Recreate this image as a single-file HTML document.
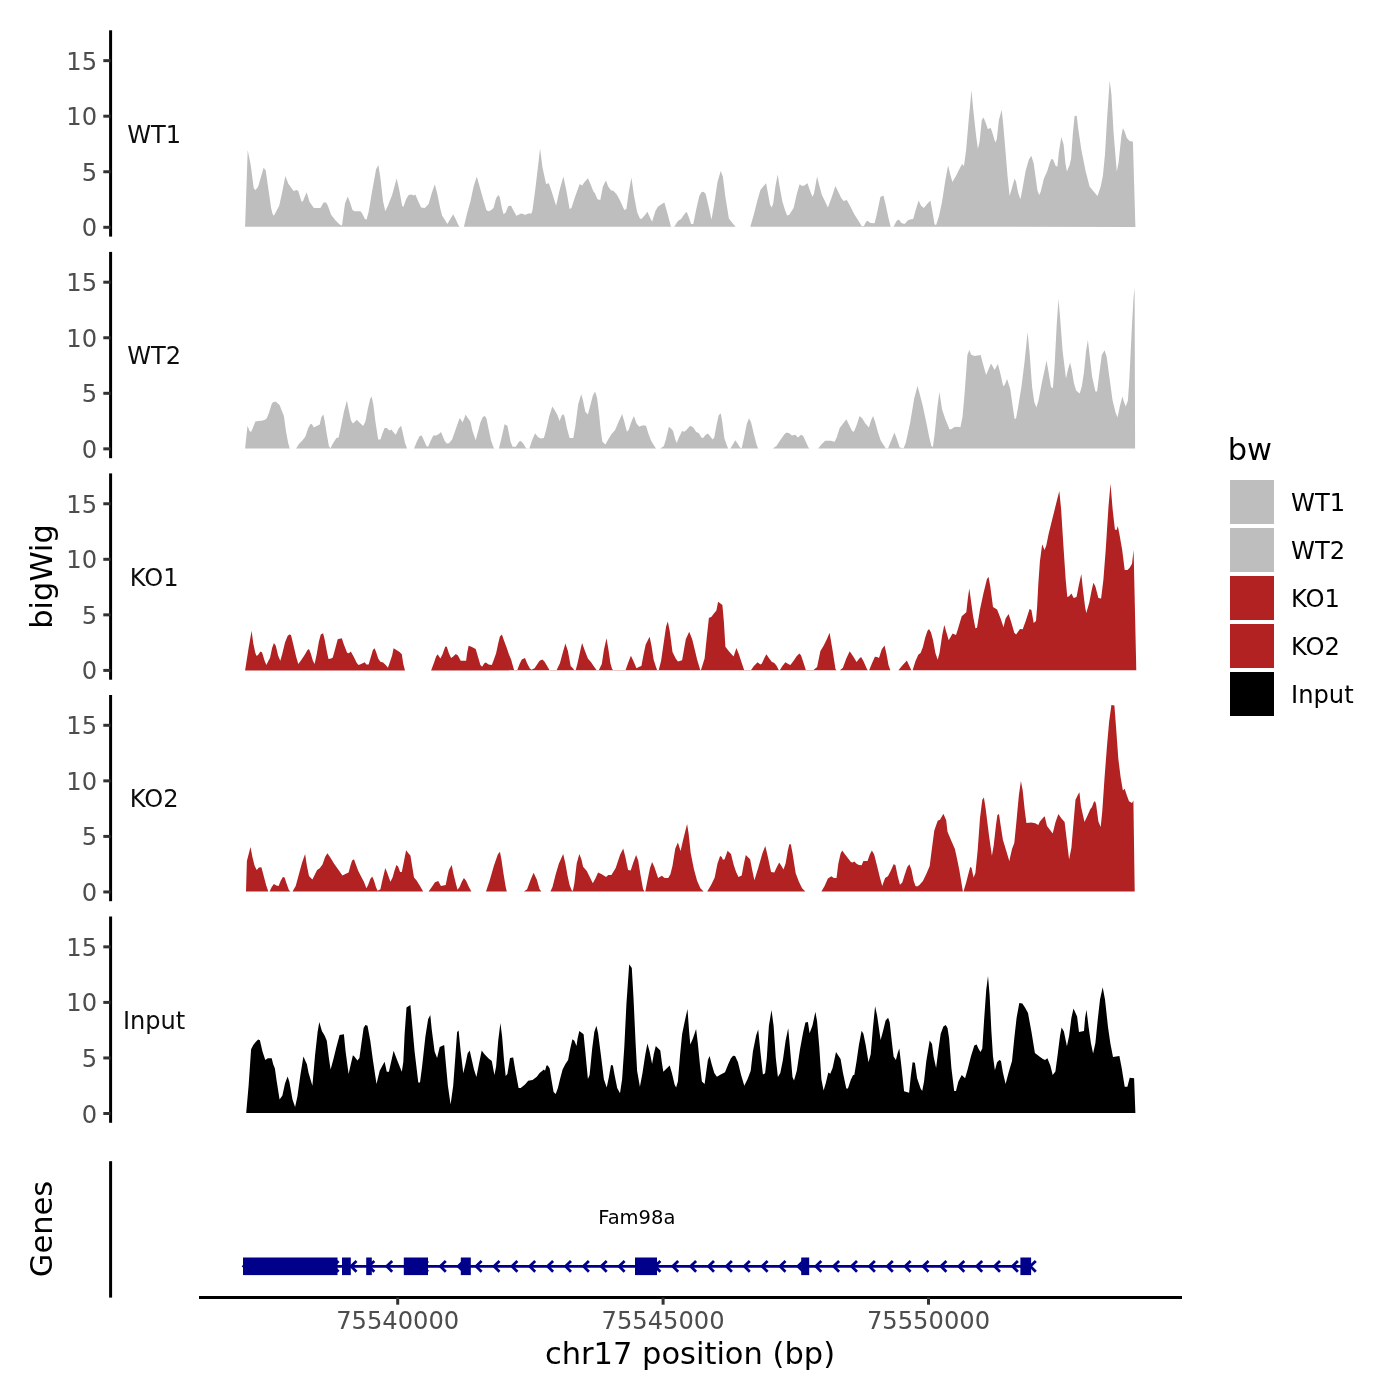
<!DOCTYPE html>
<html lang="en"><head><meta charset="utf-8"><title>bigWig tracks chr17</title>
<style>html,body{margin:0;padding:0;background:#fff}svg{display:block;will-change:transform}text{font-family:"DejaVu Sans","Liberation Sans",sans-serif}</style></head><body>
<svg width="1400" height="1400" viewBox="0 0 1400 1400">
<rect width="1400" height="1400" fill="#fff"/>
<path d="M245.1,226.7 L247.7,150.0 L250.7,165.0 L253.7,188.1 L255.4,190.3 L258.2,186.4 L263.6,167.8 L265.7,170.4 L268.3,188.6 L271.1,207.9 L272.6,213.9 L273.9,215.8 L276.4,211.1 L279.2,205.7 L281.8,193.9 L285.4,176.1 L288.2,183.6 L291.4,188.1 L293.6,191.1 L296.8,189.9 L298.3,191.1 L301.5,201.4 L302.8,201.4 L306.6,192.2 L309.6,201.9 L313.9,207.9 L320.4,207.9 L323.6,202.5 L326.1,202.5 L327.9,205.7 L331.1,214.7 L335.4,220.3 L339.6,224.6 L342.0,225.4 L345.0,203.6 L347.8,196.5 L349.7,201.4 L352.5,210.0 L354.6,211.3 L360.4,211.3 L362.1,213.2 L364.9,219.0 L366.6,219.6 L368.6,212.1 L371.8,192.9 L376.1,169.3 L378.4,165.0 L380.4,177.9 L383.1,201.4 L385.3,211.3 L387.9,205.7 L392.1,195.0 L396.6,178.5 L399.0,188.6 L402.2,206.1 L403.5,206.8 L406.1,199.3 L408.6,195.0 L411.4,194.6 L413.6,195.6 L415.3,194.6 L417.9,200.4 L421.1,207.4 L424.7,207.9 L428.6,204.0 L431.8,192.9 L434.8,184.3 L437.1,192.9 L440.4,208.9 L442.1,215.4 L444.6,219.6 L447.4,223.9 L450.0,219.6 L453.2,214.3 L455.4,218.6 L458.6,225.4 L459.6,226.7 L463.9,226.7 L467.1,213.2 L470.4,201.4 L473.6,186.4 L476.8,176.4 L479.6,186.4 L483.2,199.3 L486.4,210.0 L488.1,211.3 L490.7,210.6 L493.5,207.9 L496.1,198.2 L498.4,195.0 L499.7,197.1 L501.9,207.9 L503.6,214.3 L505.7,212.6 L508.3,206.1 L511.1,205.7 L513.2,210.0 L516.4,215.8 L518.6,214.7 L521.1,213.4 L523.3,213.9 L525.0,214.9 L528.2,213.4 L531.4,213.4 L532.5,210.0 L535.4,188.6 L540.1,148.5 L542.4,167.1 L546.1,183.9 L548.9,183.2 L551.4,190.7 L556.1,205.7 L560.0,188.6 L563.4,176.4 L566.4,190.7 L569.6,208.9 L571.4,207.9 L575.0,197.1 L579.7,183.9 L582.1,185.4 L584.6,182.1 L587.9,178.3 L590.6,184.3 L593.2,191.1 L594.9,193.3 L597.5,199.3 L600.3,199.9 L602.9,186.4 L605.9,180.6 L608.2,186.4 L611.0,190.3 L613.6,191.1 L616.8,194.6 L620.0,200.4 L624.3,210.0 L626.4,208.9 L628.6,192.9 L631.4,177.4 L633.9,195.0 L637.1,212.1 L639.9,218.6 L641.4,219.0 L644.6,215.4 L647.4,211.7 L650.0,217.5 L652.1,221.8 L655.4,211.1 L657.9,206.8 L661.1,204.6 L664.4,202.5 L667.1,212.1 L670.8,226.1 L671.4,226.7 L674.2,226.7 L677.9,221.1 L681.1,219.0 L684.3,214.3 L686.6,211.7 L688.6,216.4 L691.1,223.9 L693.3,224.1 L696.1,210.0 L699.3,196.1 L701.4,192.2 L703.6,191.8 L705.7,193.9 L708.9,207.9 L711.5,219.6 L714.3,203.6 L717.5,182.1 L720.7,171.0 L722.9,176.8 L725.4,197.1 L728.9,218.6 L732.5,223.3 L735.7,226.7 L750.3,226.7 L753.9,214.3 L757.1,201.4 L760.4,190.1 L763.6,186.0 L766.1,183.2 L767.9,192.9 L770.0,204.6 L771.7,207.4 L773.2,203.6 L775.4,186.4 L777.7,174.6 L779.6,186.4 L782.4,201.4 L785.0,210.0 L787.1,215.6 L789.3,214.7 L793.6,207.9 L796.8,193.9 L799.6,184.3 L802.1,186.0 L804.3,185.4 L807.5,183.2 L809.6,189.6 L812.4,196.7 L813.9,193.9 L817.1,176.4 L819.3,185.4 L821.9,195.0 L824.6,200.4 L827.9,207.4 L831.8,197.1 L835.4,186.0 L838.2,191.8 L841.4,198.2 L843.6,201.0 L846.8,199.9 L850.0,205.7 L854.3,214.3 L858.6,221.1 L861.8,226.3 L863.9,226.1 L866.1,221.8 L867.6,220.7 L870.4,222.9 L874.6,223.3 L876.8,214.3 L880.4,197.1 L883.4,195.4 L885.4,203.6 L888.6,218.6 L890.7,226.7 L893.5,226.7 L896.7,220.7 L898.9,219.6 L901.4,222.9 L904.6,223.9 L907.9,220.3 L911.1,219.2 L913.2,219.0 L915.4,211.1 L918.6,200.4 L921.1,205.7 L923.9,207.9 L927.1,204.0 L930.4,200.4 L932.5,212.1 L934.6,224.6 L936.1,225.0 L938.9,216.4 L942.1,201.4 L945.4,180.0 L948.1,165.4 L950.3,174.6 L952.4,182.1 L956.1,175.7 L959.3,169.3 L962.1,163.9 L964.0,166.1 L966.1,150.0 L968.9,117.9 L971.5,90.0 L973.2,109.3 L976.0,135.0 L977.9,148.9 L979.6,141.4 L981.8,120.0 L983.5,117.4 L985.4,122.1 L987.8,129.0 L990.8,127.9 L993.1,135.0 L995.3,142.5 L996.8,139.3 L998.9,120.0 L1001.7,109.7 L1003.2,124.3 L1005.4,150.0 L1007.5,175.7 L1009.6,196.1 L1011.8,188.6 L1014.6,178.5 L1016.1,182.1 L1018.2,192.9 L1020.4,199.3 L1022.5,188.6 L1025.7,170.4 L1028.9,159.6 L1031.3,155.8 L1033.6,162.9 L1035.4,175.7 L1037.5,190.7 L1039.2,195.0 L1040.7,191.8 L1043.9,178.5 L1047.1,171.4 L1049.7,162.9 L1051.4,159.0 L1053.1,159.6 L1055.7,166.1 L1057.4,166.5 L1058.9,152.1 L1061.3,137.1 L1063.6,144.6 L1065.4,162.9 L1066.9,171.4 L1069.6,165.0 L1071.1,158.6 L1072.9,132.9 L1074.6,116.1 L1076.7,115.7 L1078.2,128.6 L1081.4,150.0 L1085.7,171.4 L1089.6,186.4 L1093.2,191.1 L1097.5,196.1 L1100.7,186.4 L1102.9,175.7 L1105.0,154.3 L1107.1,117.9 L1109.7,80.4 L1111.4,94.3 L1113.6,132.9 L1116.8,171.4 L1118.5,162.9 L1121.4,135.7 L1122.9,128.3 L1124.3,130.7 L1126.9,137.9 L1129.3,140.7 L1132.9,141.7 L1135.4,226.9Z" fill="#BEBEBE"/>
<line x1="110.6" x2="110.6" y1="30.3" y2="236.6" stroke="#000" stroke-width="3"/>
<line x1="103.3" x2="110.6" y1="227.30" y2="227.30" stroke="#333" stroke-width="3"/>
<text x="97.1" y="236.3" font-size="24.2" fill="#4D4D4D" text-anchor="end">0</text>
<line x1="103.3" x2="110.6" y1="171.75" y2="171.75" stroke="#333" stroke-width="3"/>
<text x="97.1" y="180.8" font-size="24.2" fill="#4D4D4D" text-anchor="end">5</text>
<line x1="103.3" x2="110.6" y1="116.20" y2="116.20" stroke="#333" stroke-width="3"/>
<text x="97.1" y="125.2" font-size="24.2" fill="#4D4D4D" text-anchor="end">10</text>
<line x1="103.3" x2="110.6" y1="60.65" y2="60.65" stroke="#333" stroke-width="3"/>
<text x="97.1" y="69.7" font-size="24.2" fill="#4D4D4D" text-anchor="end">15</text>
<text x="154.1" y="142.7" font-size="24.1" fill="#0d0d0d" text-anchor="middle">WT1</text>
<path d="M245.1,448.6 L247.5,425.7 L249.6,431.1 L251.1,432.1 L253.3,426.8 L255.4,421.4 L258.2,421.0 L261.4,420.8 L264.6,419.9 L266.8,418.2 L268.9,412.9 L271.7,403.9 L273.2,402.1 L276.0,401.7 L278.6,404.3 L279.6,404.9 L281.8,410.7 L283.9,416.1 L286.1,432.1 L288.2,442.9 L289.7,448.6 L296.1,448.6 L298.9,443.9 L302.6,440.3 L305.4,436.4 L308.1,428.3 L310.3,424.2 L311.8,424.0 L313.9,427.4 L316.7,426.1 L319.7,424.6 L321.4,417.1 L323.4,414.6 L324.6,420.4 L326.8,434.3 L328.9,446.1 L330.4,448.2 L333.2,442.9 L336.4,438.1 L338.6,437.5 L340.7,427.9 L343.9,411.8 L346.9,400.4 L348.9,410.7 L351.0,420.4 L352.9,423.6 L354.6,421.9 L356.8,419.7 L360.0,423.1 L363.2,426.1 L365.4,421.4 L367.9,408.6 L370.1,398.9 L371.6,396.4 L373.3,404.3 L375.4,421.4 L378.2,439.6 L380.4,439.6 L382.5,433.2 L384.6,427.9 L386.8,427.9 L389.4,430.6 L391.5,429.6 L393.2,432.1 L395.8,434.7 L398.6,428.5 L401.1,425.7 L402.9,433.2 L405.0,442.9 L407.1,448.6 L414.0,448.6 L416.8,441.8 L419.6,436.0 L421.7,435.4 L423.9,440.3 L426.4,446.1 L428.1,446.7 L430.7,440.7 L433.3,435.4 L436.1,435.4 L438.9,433.9 L441.0,432.1 L442.5,435.4 L444.6,440.7 L446.8,443.5 L448.9,443.3 L452.1,439.6 L454.3,433.2 L456.9,425.7 L459.6,418.2 L460.7,419.3 L462.4,422.5 L463.9,419.3 L465.6,414.6 L467.6,417.8 L470.4,421.4 L472.5,431.1 L475.7,440.3 L477.9,432.1 L480.4,422.5 L482.8,417.1 L484.7,416.1 L486.4,418.2 L488.6,428.9 L491.1,440.7 L493.9,448.2 L495.0,448.6 L498.9,448.6 L501.4,438.6 L504.6,424.2 L507.4,425.7 L508.9,433.2 L510.6,441.8 L512.6,446.7 L515.8,446.7 L518.6,442.2 L520.3,440.7 L522.9,442.9 L526.1,448.2 L529.3,448.6 L531.9,440.7 L535.1,433.2 L537.9,437.1 L540.7,438.6 L543.9,438.1 L546.1,430.0 L549.3,416.1 L552.3,406.4 L554.6,410.1 L557.4,415.0 L559.6,421.0 L561.7,415.4 L563.2,413.9 L564.7,417.1 L566.9,427.9 L569.6,438.1 L573.3,438.1 L575.4,425.7 L578.2,404.3 L581.2,394.2 L582.9,400.0 L585.3,411.8 L587.9,414.6 L590.0,406.4 L592.8,395.7 L595.1,391.4 L597.1,397.9 L599.0,412.9 L600.7,430.0 L602.4,441.8 L605.4,444.6 L608.2,439.6 L611.4,434.3 L615.1,430.0 L618.3,422.5 L622.1,413.9 L624.3,421.4 L626.9,431.7 L628.6,430.0 L631.1,422.5 L633.9,416.1 L636.5,423.6 L639.3,426.8 L641.4,425.7 L644.0,425.3 L646.1,426.1 L648.3,433.2 L651.1,440.7 L654.3,446.1 L656.0,448.6 L660.3,448.6 L663.9,446.1 L666.1,438.6 L668.9,426.8 L671.0,428.5 L673.1,431.1 L675.3,439.6 L676.8,442.9 L678.9,437.5 L682.1,431.1 L684.3,431.7 L686.4,430.0 L690.1,425.7 L693.3,427.4 L696.1,431.7 L698.9,433.2 L701.4,437.5 L703.1,437.9 L705.7,434.7 L707.9,433.6 L710.0,436.0 L712.6,439.6 L714.3,437.5 L716.4,425.7 L718.6,415.4 L720.7,413.3 L722.2,421.4 L724.4,438.6 L727.1,446.1 L728.2,448.6 L730.4,448.6 L733.1,443.9 L735.3,440.3 L737.4,443.3 L740.0,447.6 L741.7,448.2 L744.3,436.4 L746.9,423.6 L749.0,418.2 L751.1,422.5 L753.9,434.3 L756.7,445.0 L758.2,448.6 L772.8,448.6 L776.4,446.1 L780.7,439.6 L784.6,433.9 L786.7,432.4 L789.3,433.2 L791.9,435.4 L795.3,434.7 L797.9,437.5 L801.1,434.7 L803.2,436.0 L805.4,440.7 L808.1,446.7 L809.2,448.6 L818.2,448.6 L821.4,444.6 L825.1,440.7 L828.9,440.7 L830.7,440.7 L834.6,441.8 L836.7,437.5 L839.7,427.9 L843.1,423.6 L846.4,419.3 L848.9,424.6 L852.1,431.1 L853.9,431.7 L856.4,425.7 L859.6,416.1 L862.2,418.2 L865.0,423.1 L868.9,427.4 L871.0,420.4 L873.1,416.1 L875.3,422.5 L877.9,432.1 L880.6,440.3 L883.2,444.6 L885.8,448.2 L888.1,448.2 L890.7,441.8 L894.4,432.6 L896.7,438.6 L899.7,447.6 L903.6,448.2 L905.7,442.9 L910.0,423.6 L914.3,397.9 L917.5,386.1 L919.6,393.6 L922.9,406.4 L926.1,421.4 L929.3,437.5 L931.4,446.1 L932.9,447.1 L934.6,434.3 L937.2,408.6 L939.4,391.9 L942.1,409.6 L945.4,419.3 L949.6,429.6 L951.8,428.9 L953.9,427.2 L957.1,426.8 L960.4,427.2 L962.5,417.1 L964.6,393.6 L967.4,355.0 L969.4,350.1 L971.1,354.6 L974.3,356.1 L980.7,355.0 L982.9,363.6 L986.1,374.9 L988.2,370.0 L991.0,363.6 L992.9,366.8 L994.6,370.0 L997.9,364.0 L1000.0,372.1 L1003.2,386.1 L1004.7,385.0 L1007.1,379.0 L1010.3,389.3 L1012.4,404.3 L1014.6,418.9 L1016.1,418.2 L1018.2,406.4 L1021.4,387.1 L1024.6,361.4 L1027.6,331.9 L1029.6,352.9 L1032.1,387.1 L1034.3,402.1 L1036.4,407.5 L1038.6,400.0 L1041.8,382.9 L1044.6,370.0 L1046.5,360.4 L1048.2,370.0 L1051.0,387.1 L1052.9,388.2 L1054.6,365.7 L1056.8,322.9 L1058.5,298.9 L1060.0,316.4 L1062.6,350.7 L1066.0,378.6 L1068.1,368.9 L1070.1,362.5 L1071.8,370.0 L1073.9,382.9 L1076.1,390.4 L1079.7,393.6 L1081.9,386.1 L1084.0,372.1 L1086.1,350.7 L1087.9,340.0 L1089.6,355.0 L1092.1,376.4 L1095.4,391.4 L1097.1,391.4 L1099.2,374.3 L1101.8,355.0 L1104.6,350.3 L1106.7,357.1 L1109.3,376.4 L1112.5,400.0 L1115.7,412.9 L1117.4,417.1 L1117.4,417.9 L1120.0,405.7 L1122.4,396.4 L1124.0,402.1 L1125.7,406.4 L1127.9,400.7 L1129.3,380.0 L1130.7,351.4 L1132.1,322.9 L1133.6,297.1 L1134.6,287.9 L1135.1,448.6Z" fill="#BEBEBE"/>
<line x1="110.6" x2="110.6" y1="251.9" y2="458.2" stroke="#000" stroke-width="3"/>
<line x1="103.3" x2="110.6" y1="448.85" y2="448.85" stroke="#333" stroke-width="3"/>
<text x="97.1" y="457.9" font-size="24.2" fill="#4D4D4D" text-anchor="end">0</text>
<line x1="103.3" x2="110.6" y1="393.30" y2="393.30" stroke="#333" stroke-width="3"/>
<text x="97.1" y="402.3" font-size="24.2" fill="#4D4D4D" text-anchor="end">5</text>
<line x1="103.3" x2="110.6" y1="337.75" y2="337.75" stroke="#333" stroke-width="3"/>
<text x="97.1" y="346.8" font-size="24.2" fill="#4D4D4D" text-anchor="end">10</text>
<line x1="103.3" x2="110.6" y1="282.20" y2="282.20" stroke="#333" stroke-width="3"/>
<text x="97.1" y="291.2" font-size="24.2" fill="#4D4D4D" text-anchor="end">15</text>
<text x="154.1" y="364.2" font-size="24.1" fill="#0d0d0d" text-anchor="middle">WT2</text>
<path d="M245.1,670.4 L248.6,647.9 L251.6,630.7 L253.3,643.6 L255.4,653.2 L256.7,656.0 L258.2,654.7 L260.4,651.5 L262.1,652.6 L264.6,660.7 L266.4,665.0 L268.3,661.1 L270.0,658.1 L272.1,647.9 L273.9,643.1 L275.8,645.7 L278.1,655.4 L280.3,660.7 L282.4,653.2 L285.0,642.5 L287.6,636.1 L289.3,634.6 L291.0,635.0 L293.6,645.7 L296.1,656.4 L298.3,663.9 L301.1,660.3 L304.3,655.4 L307.5,650.0 L309.0,648.9 L310.7,653.2 L312.9,660.7 L314.6,663.9 L316.7,654.3 L318.9,641.4 L320.8,634.6 L323.1,633.3 L324.6,639.3 L326.8,651.1 L328.5,659.0 L331.1,658.6 L332.8,657.5 L335.4,647.9 L337.7,639.3 L341.8,638.2 L343.9,644.6 L347.1,652.8 L348.9,653.2 L350.8,651.5 L353.6,656.4 L356.8,662.9 L358.5,665.0 L361.1,663.9 L364.7,662.2 L366.4,664.6 L368.6,664.6 L370.7,657.5 L372.9,650.0 L374.6,648.3 L376.1,652.1 L378.2,658.6 L380.4,661.8 L383.1,662.4 L385.7,665.0 L387.9,667.8 L390.0,661.8 L392.1,655.4 L393.6,648.3 L396.4,650.0 L399.6,652.1 L401.8,654.3 L403.3,663.9 L405.0,670.4 L431.1,670.4 L433.9,662.9 L436.1,656.4 L437.6,654.3 L440.4,658.6 L442.5,654.3 L445.3,646.4 L446.8,646.8 L448.9,653.2 L451.1,658.1 L453.2,656.4 L455.8,653.9 L457.9,655.4 L460.7,660.7 L466.1,660.7 L467.1,653.2 L468.6,645.7 L471.4,646.8 L475.7,648.9 L477.9,656.4 L480.4,665.0 L482.1,666.7 L484.3,663.3 L485.8,662.4 L488.6,664.6 L491.8,665.0 L493.9,659.6 L496.1,653.2 L498.2,643.6 L499.9,636.5 L501.9,634.6 L504.0,640.4 L506.8,647.9 L508.9,654.3 L511.1,659.6 L513.2,667.1 L514.3,670.4 L517.1,670.4 L519.6,663.9 L521.8,659.6 L525.0,657.9 L527.1,663.3 L529.7,668.2 L531.4,669.7 L534.6,668.2 L537.4,663.9 L539.6,660.7 L542.4,659.6 L544.6,661.8 L547.1,666.1 L549.7,670.4 L556.4,670.4 L560.0,662.9 L562.6,653.2 L565.4,643.6 L567.9,651.1 L570.7,666.1 L572.9,668.2 L574.4,670.4 L575.6,670.4 L577.6,662.9 L580.4,650.0 L582.1,643.1 L584.6,650.0 L587.9,658.6 L591.1,662.2 L594.3,667.1 L596.9,670.4 L598.6,670.4 L601.8,663.9 L603.9,650.0 L606.5,638.2 L608.2,647.9 L610.4,662.9 L612.1,668.9 L613.6,670.4 L625.4,670.4 L628.1,662.9 L630.9,655.8 L633.3,660.7 L636.5,668.2 L639.3,666.7 L641.4,666.1 L643.6,654.3 L645.7,644.6 L649.6,636.7 L651.5,645.7 L653.6,659.6 L656.0,667.1 L657.3,670.4 L658.6,670.4 L661.1,660.7 L663.9,641.4 L666.1,626.4 L667.8,621.5 L669.7,630.7 L672.5,652.1 L675.7,658.6 L677.9,661.4 L682.1,660.3 L683.9,650.0 L685.8,639.3 L689.2,631.8 L692.2,639.3 L694.6,648.9 L697.1,659.6 L700.4,670.4 L700.8,670.4 L704.6,658.6 L706.8,637.1 L708.9,617.9 L711.5,616.8 L713.9,613.6 L716.4,610.4 L718.1,601.8 L722.4,605.0 L723.9,622.1 L725.4,646.8 L729.3,651.7 L733.6,656.4 L736.4,647.9 L738.9,654.3 L742.1,663.9 L744.3,670.4 L750.7,670.4 L753.9,666.1 L757.6,662.2 L760.4,664.6 L761.9,663.5 L764.6,657.5 L766.4,654.3 L768.9,658.1 L771.7,661.8 L774.3,662.9 L776.4,665.4 L779.0,670.4 L779.6,670.4 L782.4,666.1 L785.4,662.2 L788.2,663.9 L790.4,665.0 L793.6,660.7 L796.8,656.0 L799.4,653.6 L801.1,655.4 L803.2,661.8 L806.0,670.4 L812.9,670.4 L817.1,667.1 L820.4,651.1 L823.6,645.7 L826.8,639.3 L829.6,632.7 L832.6,650.6 L835.5,668.9 L836.5,670.2 L839.9,670.2 L842.9,667.7 L846.3,658.6 L849.7,651.3 L853.1,656.3 L856.6,662.0 L859.3,658.6 L861.1,657.0 L863.4,660.9 L866.9,668.9 L868.0,670.2 L869.1,670.2 L872.1,663.1 L874.9,656.7 L877.1,657.0 L879.0,657.9 L881.7,649.4 L884.5,645.5 L886.3,652.9 L888.6,665.4 L890.4,670.2 L898.4,670.2 L902.3,665.4 L906.9,660.4 L909.1,665.4 L911.4,670.2 L912.6,670.2 L915.5,660.9 L918.3,654.7 L920.6,652.9 L922.9,647.1 L925.1,638.0 L927.4,631.1 L929.0,628.9 L930.9,632.3 L933.1,640.3 L935.4,652.9 L937.7,659.7 L939.5,652.9 L942.3,634.6 L944.3,625.0 L946.4,632.3 L948.7,640.3 L952.6,633.4 L956.0,635.0 L958.3,627.7 L961.7,616.3 L966.3,612.2 L967.9,598.0 L969.3,588.4 L970.9,600.3 L973.1,616.3 L975.4,628.2 L977.0,627.7 L980.0,609.4 L983.4,593.4 L986.9,579.3 L988.5,576.7 L990.3,586.6 L993.0,607.1 L997.1,609.4 L1000.6,618.6 L1003.5,627.3 L1005.6,618.6 L1008.6,614.0 L1010.9,620.9 L1014.3,632.7 L1016.1,634.6 L1020.0,628.9 L1022.7,629.3 L1025.7,620.9 L1029.6,609.0 L1031.4,609.9 L1033.7,623.1 L1036.0,620.9 L1037.1,607.1 L1038.3,584.3 L1039.9,561.4 L1042.2,544.3 L1044.5,550.0 L1046.3,545.4 L1048.6,534.0 L1052.0,520.3 L1055.4,506.6 L1059.3,491.0 L1061.1,508.9 L1063.4,545.4 L1065.7,579.7 L1067.3,596.9 L1069.1,596.2 L1071.4,593.4 L1073.7,598.0 L1076.5,596.9 L1079.0,584.3 L1081.3,574.0 L1082.9,588.9 L1085.1,607.1 L1086.3,612.9 L1089.3,602.6 L1091.5,591.1 L1093.4,582.7 L1095.4,586.6 L1098.4,598.0 L1101.1,598.5 L1103.4,579.7 L1105.7,550.0 L1108.5,506.6 L1110.5,483.7 L1112.6,508.9 L1114.9,529.4 L1116.7,529.9 L1117.8,526.0 L1119.4,534.0 L1122.2,550.0 L1124.7,570.1 L1127.4,569.9 L1129.7,567.8 L1132.0,563.7 L1133.6,550.0 L1136.3,670.2Z" fill="#B22222"/>
<line x1="110.6" x2="110.6" y1="473.4" y2="679.7" stroke="#000" stroke-width="3"/>
<line x1="103.3" x2="110.6" y1="670.40" y2="670.40" stroke="#333" stroke-width="3"/>
<text x="97.1" y="679.4" font-size="24.2" fill="#4D4D4D" text-anchor="end">0</text>
<line x1="103.3" x2="110.6" y1="614.85" y2="614.85" stroke="#333" stroke-width="3"/>
<text x="97.1" y="623.9" font-size="24.2" fill="#4D4D4D" text-anchor="end">5</text>
<line x1="103.3" x2="110.6" y1="559.30" y2="559.30" stroke="#333" stroke-width="3"/>
<text x="97.1" y="568.3" font-size="24.2" fill="#4D4D4D" text-anchor="end">10</text>
<line x1="103.3" x2="110.6" y1="503.75" y2="503.75" stroke="#333" stroke-width="3"/>
<text x="97.1" y="512.8" font-size="24.2" fill="#4D4D4D" text-anchor="end">15</text>
<text x="154.1" y="585.8" font-size="24.1" fill="#0d0d0d" text-anchor="middle">KO1</text>
<path d="M246.0,891.6 L246.9,861.0 L250.5,847.1 L252.4,857.1 L254.6,865.7 L256.7,870.0 L258.9,867.4 L261.4,867.2 L263.6,875.4 L266.1,885.0 L268.3,891.6 L269.6,891.6 L271.7,887.1 L273.9,883.9 L276.4,885.4 L278.6,886.1 L280.7,880.7 L282.9,876.9 L284.6,877.5 L286.7,883.9 L288.9,889.9 L290.4,891.6 L292.5,891.6 L295.7,886.1 L298.9,874.3 L302.1,862.5 L305.1,853.9 L306.9,865.7 L309.0,876.0 L312.4,879.6 L315.0,874.3 L317.1,870.0 L319.7,868.3 L322.5,864.6 L325.1,857.1 L327.4,853.3 L330.0,857.1 L334.3,864.0 L338.6,870.0 L342.4,875.4 L345.4,873.9 L348.6,872.6 L350.4,865.7 L352.1,860.4 L354.0,859.3 L355.7,864.0 L358.3,871.1 L361.1,876.4 L363.9,881.8 L366.4,888.2 L368.1,885.0 L370.3,879.0 L372.2,876.4 L373.9,880.3 L376.1,887.6 L377.6,890.8 L380.4,889.3 L382.5,879.6 L385.3,867.9 L387.4,873.2 L390.4,881.8 L392.6,877.5 L394.7,870.0 L396.4,865.1 L398.1,866.4 L400.1,872.1 L401.8,872.1 L403.9,861.4 L406.1,850.3 L408.2,852.9 L410.4,855.4 L412.1,865.7 L414.0,877.5 L416.8,880.7 L420.0,886.1 L423.2,891.6 L428.6,891.6 L431.8,887.1 L435.0,882.2 L438.2,881.1 L441.0,886.1 L445.7,885.0 L447.4,876.4 L448.9,870.0 L451.7,865.1 L453.6,874.3 L456.0,883.9 L457.5,889.7 L459.6,887.1 L461.8,881.8 L463.9,878.1 L466.1,880.7 L468.9,887.1 L471.4,891.6 L486.0,891.6 L489.6,880.7 L493.9,865.7 L497.8,854.6 L499.9,851.8 L501.4,859.3 L503.6,874.3 L505.7,887.1 L506.8,891.6 L523.9,891.6 L527.1,889.3 L530.4,880.3 L533.6,872.8 L536.8,879.6 L539.6,889.3 L541.4,891.6 L550.4,891.6 L552.5,887.1 L555.7,874.3 L558.9,863.6 L563.2,853.9 L565.4,863.6 L567.5,875.4 L569.6,885.0 L571.8,890.4 L572.9,890.8 L574.4,882.9 L576.7,863.6 L579.3,853.9 L581.4,859.3 L583.1,866.8 L586.8,871.1 L590.0,877.5 L592.8,883.3 L595.4,878.6 L598.1,872.6 L601.8,874.3 L606.1,876.9 L608.2,875.1 L611.4,875.1 L615.7,867.9 L620.0,855.0 L623.2,848.6 L625.4,857.1 L628.1,870.0 L630.7,870.6 L633.3,862.5 L636.1,855.0 L638.2,860.4 L640.4,874.3 L643.1,889.3 L644.6,891.6 L645.3,891.6 L647.4,880.7 L650.0,867.9 L652.1,861.9 L654.3,866.8 L658.1,877.9 L661.8,875.8 L664.6,877.9 L668.2,878.1 L670.4,874.3 L672.5,865.7 L675.3,848.6 L677.9,842.6 L680.6,851.1 L682.6,842.1 L684.7,833.6 L687.1,823.9 L688.6,833.6 L690.7,852.9 L693.9,868.9 L697.1,880.7 L700.4,888.2 L703.6,891.6 L707.2,891.6 L711.1,885.0 L714.7,877.5 L717.5,863.6 L720.1,856.1 L721.8,857.1 L722.9,859.7 L724.6,859.3 L727.6,850.7 L731.0,853.9 L733.6,864.6 L736.1,872.1 L738.5,877.1 L741.7,875.4 L743.9,863.6 L745.8,855.0 L750.1,859.3 L752.2,870.0 L754.4,880.3 L758.2,867.9 L762.5,852.9 L765.3,846.0 L767.9,857.1 L771.1,872.1 L774.3,872.6 L776.4,867.9 L779.2,862.5 L781.8,866.4 L783.5,869.4 L785.6,863.6 L787.8,850.7 L789.3,844.3 L790.8,844.3 L792.5,852.9 L795.7,873.2 L798.9,881.8 L802.1,888.2 L805.4,891.6 L821.4,891.6 L824.6,886.1 L827.9,878.6 L831.4,876.3 L833.7,877.9 L836.5,877.9 L838.3,863.7 L840.6,853.4 L842.2,850.5 L845.1,854.6 L848.6,859.1 L850.9,861.9 L852.5,862.6 L854.3,861.4 L856.6,863.7 L858.9,864.9 L861.6,865.3 L863.4,861.0 L867.5,861.0 L869.8,854.6 L871.9,850.5 L874.2,854.6 L877.1,866.0 L879.9,877.4 L882.2,886.1 L885.1,878.1 L887.9,876.3 L890.9,870.6 L893.6,864.2 L895.4,864.9 L897.7,876.3 L900.0,884.7 L902.3,882.5 L904.6,875.1 L907.3,867.1 L909.4,864.2 L911.4,869.4 L913.7,880.9 L915.5,885.9 L917.1,886.6 L919.4,885.0 L922.9,880.9 L926.3,874.0 L929.7,866.0 L932.0,847.7 L934.3,830.6 L937.7,820.7 L940.0,819.8 L943.4,813.7 L946.2,820.3 L947.5,831.7 L951.4,840.9 L954.9,848.9 L957.1,859.1 L959.4,870.6 L961.7,884.3 L962.9,891.6 L963.5,891.6 L966.3,882.0 L968.6,872.9 L970.2,867.1 L971.5,867.8 L973.6,877.4 L975.4,872.9 L977.7,850.0 L980.0,818.0 L982.3,799.7 L983.9,797.4 L985.7,808.9 L989.1,836.3 L991.9,855.7 L993.7,845.4 L996.0,824.9 L997.4,815.0 L999.0,814.1 L1000.6,824.9 L1002.9,839.7 L1006.3,851.1 L1009.3,861.0 L1012.0,848.9 L1014.3,843.1 L1016.1,824.9 L1018.9,795.1 L1020.9,781.0 L1022.7,790.6 L1024.6,808.9 L1026.4,823.0 L1031.4,822.6 L1035.3,823.3 L1038.3,824.9 L1039.9,821.4 L1042.9,818.0 L1044.7,816.2 L1047.0,826.0 L1049.7,829.4 L1052.7,833.5 L1055.4,822.6 L1058.4,814.1 L1061.1,818.0 L1064.6,821.9 L1066.9,840.9 L1069.1,859.6 L1071.4,847.7 L1073.3,824.9 L1075.5,799.7 L1077.8,795.1 L1079.4,792.2 L1081.0,806.6 L1084.5,822.1 L1087.4,815.7 L1090.4,808.9 L1092.0,807.0 L1093.6,802.5 L1095.0,800.9 L1096.1,804.3 L1098.4,821.4 L1100.7,827.1 L1102.3,811.1 L1104.6,776.9 L1106.9,747.1 L1109.1,722.0 L1111.4,704.9 L1114.4,705.5 L1116.0,726.6 L1118.3,758.6 L1120.6,776.9 L1122.9,790.6 L1124.7,788.7 L1126.7,795.1 L1129.0,801.3 L1132.0,803.1 L1133.4,800.4 L1134.7,891.6Z" fill="#B22222"/>
<line x1="110.6" x2="110.6" y1="695.0" y2="901.2" stroke="#000" stroke-width="3"/>
<line x1="103.3" x2="110.6" y1="891.95" y2="891.95" stroke="#333" stroke-width="3"/>
<text x="97.1" y="901.0" font-size="24.2" fill="#4D4D4D" text-anchor="end">0</text>
<line x1="103.3" x2="110.6" y1="836.40" y2="836.40" stroke="#333" stroke-width="3"/>
<text x="97.1" y="845.4" font-size="24.2" fill="#4D4D4D" text-anchor="end">5</text>
<line x1="103.3" x2="110.6" y1="780.85" y2="780.85" stroke="#333" stroke-width="3"/>
<text x="97.1" y="789.9" font-size="24.2" fill="#4D4D4D" text-anchor="end">10</text>
<line x1="103.3" x2="110.6" y1="725.30" y2="725.30" stroke="#333" stroke-width="3"/>
<text x="97.1" y="734.3" font-size="24.2" fill="#4D4D4D" text-anchor="end">15</text>
<text x="154.1" y="807.3" font-size="24.1" fill="#0d0d0d" text-anchor="middle">KO2</text>
<path d="M246.2,1113.1 L248.6,1085.7 L251.1,1049.3 L253.3,1045.0 L256.1,1041.4 L258.2,1039.6 L259.9,1040.3 L262.5,1051.4 L265.3,1060.0 L267.9,1058.3 L271.7,1058.3 L273.2,1064.3 L274.9,1068.6 L276.4,1079.3 L279.6,1099.6 L282.4,1095.4 L285.0,1083.6 L287.6,1076.5 L289.3,1081.4 L292.5,1099.6 L295.1,1107.1 L297.4,1096.4 L300.4,1075.0 L303.4,1056.4 L306.9,1064.3 L308.6,1072.9 L312.4,1085.7 L315.0,1055.7 L317.6,1032.1 L319.3,1021.9 L321.9,1031.1 L324.6,1035.4 L326.8,1040.7 L328.9,1057.9 L330.6,1069.6 L333.2,1060.0 L336.4,1047.1 L339.6,1034.9 L343.9,1034.3 L345.6,1051.4 L348.6,1073.9 L350.8,1064.3 L352.9,1055.3 L354.6,1056.8 L357.4,1060.4 L359.4,1057.9 L361.5,1042.9 L363.6,1027.9 L365.4,1025.1 L367.5,1025.7 L370.3,1040.7 L372.9,1060.0 L376.5,1084.0 L379.7,1070.7 L382.5,1065.4 L384.6,1061.7 L386.8,1071.8 L388.9,1071.8 L391.1,1062.1 L393.6,1050.8 L397.5,1061.1 L401.8,1071.8 L403.3,1062.1 L404.6,1034.3 L406.5,1007.5 L410.4,1004.9 L411.9,1021.4 L414.6,1051.4 L418.3,1082.5 L420.0,1082.5 L422.1,1066.4 L425.4,1036.4 L428.1,1019.3 L430.3,1015.0 L431.8,1030.0 L434.6,1051.4 L437.1,1057.9 L439.7,1047.1 L444.2,1045.0 L445.7,1062.1 L447.9,1085.7 L450.6,1104.6 L453.2,1085.7 L455.4,1055.7 L457.1,1032.1 L458.6,1030.4 L460.7,1051.4 L463.3,1073.3 L465.4,1064.3 L467.6,1053.6 L469.7,1050.4 L471.4,1057.9 L474.0,1069.6 L476.4,1077.1 L478.9,1064.3 L481.7,1050.4 L484.3,1054.0 L488.6,1058.5 L491.8,1061.1 L494.4,1075.0 L496.1,1066.4 L498.2,1040.7 L500.4,1023.1 L502.1,1036.4 L504.0,1060.0 L505.7,1076.1 L507.4,1073.9 L510.0,1057.9 L513.2,1057.4 L515.4,1070.7 L518.6,1087.9 L520.7,1087.9 L525.0,1084.6 L528.2,1080.8 L532.5,1079.9 L536.8,1076.7 L539.6,1072.9 L542.4,1070.7 L543.9,1069.6 L545.0,1070.7 L546.5,1065.4 L547.8,1065.4 L549.7,1068.6 L551.4,1079.3 L553.6,1092.1 L555.7,1093.9 L557.9,1087.9 L560.0,1079.3 L562.6,1069.6 L565.4,1063.9 L568.1,1060.0 L570.1,1049.3 L572.4,1039.2 L574.4,1040.7 L576.5,1046.1 L577.6,1038.6 L579.3,1031.1 L583.6,1034.3 L585.3,1051.4 L587.9,1078.9 L589.6,1075.0 L592.1,1049.3 L594.3,1032.1 L596.4,1025.7 L598.1,1033.2 L600.7,1053.6 L603.9,1079.3 L606.7,1087.4 L608.9,1077.1 L611.0,1064.9 L612.9,1065.4 L614.6,1075.0 L617.2,1087.9 L620.0,1093.2 L622.1,1079.3 L624.3,1047.1 L626.4,1004.3 L629.2,964.2 L631.8,967.9 L633.5,997.9 L635.6,1042.9 L637.1,1070.7 L639.9,1086.8 L642.5,1072.9 L645.1,1055.7 L647.4,1043.5 L649.6,1051.4 L652.1,1063.9 L653.9,1053.6 L655.8,1046.1 L660.3,1050.4 L661.8,1062.1 L663.3,1071.8 L666.1,1069.0 L669.7,1065.4 L671.9,1072.9 L674.6,1084.6 L676.1,1087.4 L677.9,1081.4 L680.0,1055.7 L682.1,1034.3 L684.7,1021.4 L687.5,1009.0 L689.0,1030.0 L690.3,1044.6 L692.9,1038.6 L696.1,1028.9 L697.8,1042.9 L699.9,1064.3 L701.9,1081.4 L704.6,1084.0 L706.1,1072.9 L707.9,1060.0 L709.6,1056.1 L711.7,1064.3 L714.3,1072.9 L716.9,1076.7 L720.7,1074.6 L725.0,1072.2 L728.2,1064.3 L730.8,1058.5 L733.1,1055.7 L735.1,1056.1 L737.9,1062.1 L741.1,1075.0 L744.3,1085.7 L747.5,1079.3 L750.7,1070.7 L752.9,1051.4 L756.1,1035.4 L758.2,1029.4 L760.4,1051.4 L762.9,1074.6 L765.1,1073.3 L766.8,1057.9 L768.9,1025.7 L771.5,1010.1 L773.6,1025.7 L775.8,1057.9 L777.9,1077.1 L780.3,1072.9 L782.9,1060.0 L785.6,1040.7 L788.2,1028.3 L789.9,1047.1 L792.5,1077.1 L794.0,1080.4 L796.8,1070.7 L800.0,1049.3 L803.2,1032.1 L805.4,1022.5 L807.9,1022.1 L809.6,1033.2 L812.4,1025.7 L815.4,1011.8 L817.1,1021.4 L819.3,1047.1 L821.4,1079.3 L823.6,1090.6 L825.7,1083.6 L828.3,1072.4 L830.3,1073.7 L832.6,1068.0 L836.0,1052.0 L840.6,1058.9 L842.9,1072.6 L846.3,1088.6 L847.9,1088.6 L850.9,1079.4 L853.1,1074.9 L854.3,1074.9 L856.6,1061.1 L858.9,1045.1 L861.6,1030.7 L863.4,1033.7 L865.7,1045.1 L868.5,1062.3 L870.7,1054.3 L873.0,1026.9 L875.1,1006.3 L877.1,1015.4 L880.6,1039.9 L882.9,1031.4 L885.6,1020.5 L888.1,1017.7 L889.7,1022.3 L892.0,1042.9 L893.6,1056.6 L895.9,1060.0 L897.7,1053.1 L899.3,1048.6 L901.1,1063.4 L904.1,1091.3 L909.1,1092.7 L910.7,1077.1 L912.6,1062.3 L914.9,1062.7 L917.1,1078.3 L920.6,1088.6 L922.2,1090.9 L924.0,1081.7 L926.3,1061.1 L929.7,1040.6 L932.0,1044.0 L933.6,1056.6 L936.1,1068.0 L938.4,1049.7 L940.7,1033.7 L943.4,1026.4 L945.7,1025.0 L947.5,1028.0 L949.1,1038.3 L951.4,1068.0 L954.2,1090.9 L956.0,1090.9 L958.3,1081.7 L961.7,1074.9 L965.1,1078.3 L967.4,1070.3 L970.9,1056.6 L974.3,1045.6 L976.6,1044.5 L978.4,1048.6 L980.5,1052.0 L982.3,1048.6 L984.1,1020.0 L986.2,990.3 L988.0,976.1 L989.6,994.9 L991.4,1031.4 L993.0,1056.6 L994.9,1070.3 L997.1,1062.3 L999.4,1060.0 L1001.0,1061.1 L1002.9,1072.6 L1005.6,1084.0 L1008.6,1072.6 L1012.0,1061.1 L1014.3,1038.3 L1016.6,1017.7 L1019.3,1002.9 L1022.3,1003.5 L1025.0,1007.4 L1028.0,1013.1 L1031.4,1031.4 L1034.9,1053.1 L1039.4,1056.6 L1042.9,1058.9 L1045.1,1060.0 L1047.4,1058.2 L1050.4,1065.7 L1052.7,1074.9 L1055.4,1071.4 L1057.7,1054.3 L1060.0,1036.0 L1061.6,1027.5 L1063.9,1031.4 L1066.9,1046.3 L1069.1,1036.0 L1071.4,1017.7 L1073.5,1008.6 L1077.1,1016.6 L1079.0,1032.1 L1084.0,1031.0 L1085.1,1017.7 L1086.5,1009.7 L1088.6,1026.9 L1090.9,1042.9 L1093.1,1053.6 L1095.4,1042.9 L1097.7,1020.0 L1100.0,999.4 L1102.7,987.3 L1105.0,999.4 L1108.0,1026.9 L1110.3,1042.9 L1113.0,1057.0 L1119.4,1056.1 L1121.7,1068.0 L1124.7,1086.7 L1127.4,1086.7 L1129.7,1077.8 L1134.1,1078.3 L1135.4,1113.0Z" fill="#000000"/>
<line x1="110.6" x2="110.6" y1="916.5" y2="1122.8" stroke="#000" stroke-width="3"/>
<line x1="103.3" x2="110.6" y1="1113.50" y2="1113.50" stroke="#333" stroke-width="3"/>
<text x="97.1" y="1122.5" font-size="24.2" fill="#4D4D4D" text-anchor="end">0</text>
<line x1="103.3" x2="110.6" y1="1057.95" y2="1057.95" stroke="#333" stroke-width="3"/>
<text x="97.1" y="1067.0" font-size="24.2" fill="#4D4D4D" text-anchor="end">5</text>
<line x1="103.3" x2="110.6" y1="1002.40" y2="1002.40" stroke="#333" stroke-width="3"/>
<text x="97.1" y="1011.4" font-size="24.2" fill="#4D4D4D" text-anchor="end">10</text>
<line x1="103.3" x2="110.6" y1="946.85" y2="946.85" stroke="#333" stroke-width="3"/>
<text x="97.1" y="955.9" font-size="24.2" fill="#4D4D4D" text-anchor="end">15</text>
<text x="154.1" y="1028.8" font-size="24.1" fill="#0d0d0d" text-anchor="middle">Input</text>
<text transform="translate(51.5,576.5) rotate(-90)" font-size="30.5" fill="#000" text-anchor="middle">bigWig</text>
<text transform="translate(52,1229) rotate(-90)" font-size="30.5" fill="#000" text-anchor="middle">Genes</text>
<line x1="110.6" x2="110.6" y1="1161.2" y2="1297.6" stroke="#000" stroke-width="3"/>
<line x1="199" x2="1182" y1="1297.5" y2="1297.5" stroke="#000" stroke-width="3"/>
<line x1="397.7" x2="397.7" y1="1297.5" y2="1304.7" stroke="#333" stroke-width="3"/>
<text x="397.7" y="1329" font-size="24.2" fill="#4D4D4D" text-anchor="middle">75540000</text>
<line x1="663.1" x2="663.1" y1="1297.5" y2="1304.7" stroke="#333" stroke-width="3"/>
<text x="663.1" y="1329" font-size="24.2" fill="#4D4D4D" text-anchor="middle">75545000</text>
<line x1="928.5" x2="928.5" y1="1297.5" y2="1304.7" stroke="#333" stroke-width="3"/>
<text x="928.5" y="1329" font-size="24.2" fill="#4D4D4D" text-anchor="middle">75550000</text>
<text x="690" y="1363.7" font-size="30.5" fill="#000" text-anchor="middle">chr17 position (bp)</text>
<g stroke="#00008B" stroke-width="2.8" fill="none">
<line x1="243.5" x2="1030.5" y1="1266.3" y2="1266.3"/>
<path d="M249.2,1260.9 L243.7,1266.3 L249.2,1271.7 M267.1,1260.9 L261.6,1266.3 L267.1,1271.7 M285.0,1260.9 L279.5,1266.3 L285.0,1271.7 M302.8,1260.9 L297.3,1266.3 L302.8,1271.7 M320.7,1260.9 L315.2,1266.3 L320.7,1271.7 M338.6,1260.9 L333.1,1266.3 L338.6,1271.7 M356.5,1260.9 L351.0,1266.3 L356.5,1271.7 M374.3,1260.9 L368.8,1266.3 L374.3,1271.7 M392.2,1260.9 L386.7,1266.3 L392.2,1271.7 M410.1,1260.9 L404.6,1266.3 L410.1,1271.7 M428.0,1260.9 L422.5,1266.3 L428.0,1271.7 M445.8,1260.9 L440.3,1266.3 L445.8,1271.7 M463.7,1260.9 L458.2,1266.3 L463.7,1271.7 M481.6,1260.9 L476.1,1266.3 L481.6,1271.7 M499.5,1260.9 L494.0,1266.3 L499.5,1271.7 M517.4,1260.9 L511.9,1266.3 L517.4,1271.7 M535.2,1260.9 L529.7,1266.3 L535.2,1271.7 M553.1,1260.9 L547.6,1266.3 L553.1,1271.7 M571.0,1260.9 L565.5,1266.3 L571.0,1271.7 M588.9,1260.9 L583.4,1266.3 L588.9,1271.7 M606.7,1260.9 L601.2,1266.3 L606.7,1271.7 M624.6,1260.9 L619.1,1266.3 L624.6,1271.7 M642.5,1260.9 L637.0,1266.3 L642.5,1271.7 M660.4,1260.9 L654.9,1266.3 L660.4,1271.7 M678.2,1260.9 L672.7,1266.3 L678.2,1271.7 M696.1,1260.9 L690.6,1266.3 L696.1,1271.7 M714.0,1260.9 L708.5,1266.3 L714.0,1271.7 M731.9,1260.9 L726.4,1266.3 L731.9,1271.7 M749.8,1260.9 L744.3,1266.3 L749.8,1271.7 M767.6,1260.9 L762.1,1266.3 L767.6,1271.7 M785.5,1260.9 L780.0,1266.3 L785.5,1271.7 M803.4,1260.9 L797.9,1266.3 L803.4,1271.7 M821.3,1260.9 L815.8,1266.3 L821.3,1271.7 M839.1,1260.9 L833.6,1266.3 L839.1,1271.7 M857.0,1260.9 L851.5,1266.3 L857.0,1271.7 M874.9,1260.9 L869.4,1266.3 L874.9,1271.7 M892.8,1260.9 L887.3,1266.3 L892.8,1271.7 M910.6,1260.9 L905.1,1266.3 L910.6,1271.7 M928.5,1260.9 L923.0,1266.3 L928.5,1271.7 M946.4,1260.9 L940.9,1266.3 L946.4,1271.7 M964.3,1260.9 L958.8,1266.3 L964.3,1271.7 M982.2,1260.9 L976.7,1266.3 L982.2,1271.7 M1000.0,1260.9 L994.5,1266.3 L1000.0,1271.7 M1017.9,1260.9 L1012.4,1266.3 L1017.9,1271.7 M1035.8,1260.9 L1030.3,1266.3 L1035.8,1271.7" stroke-linecap="butt" stroke-linejoin="miter"/>
</g>
<rect x="243" y="1257.5" width="94.5" height="17.6" fill="#00008B"/>
<rect x="342" y="1257.5" width="8.8" height="17.6" fill="#00008B"/>
<rect x="366.2" y="1257.5" width="5.6" height="17.6" fill="#00008B"/>
<rect x="403.8" y="1257.5" width="24.2" height="17.6" fill="#00008B"/>
<rect x="460.8" y="1257.5" width="10.0" height="17.6" fill="#00008B"/>
<rect x="635" y="1257.5" width="22.0" height="17.6" fill="#00008B"/>
<rect x="801.2" y="1257.5" width="8.0" height="17.6" fill="#00008B"/>
<rect x="1020.4" y="1257.5" width="10.7" height="17.6" fill="#00008B"/>
<text x="636.8" y="1224" font-size="19.5" fill="#000" text-anchor="middle">Fam98a</text>
<text x="1227.7" y="460" font-size="30.5" fill="#000">bw</text>
<rect x="1230" y="480" width="44" height="44" fill="#BEBEBE"/>
<text x="1291" y="510.8" font-size="24.2" fill="#000">WT1</text>
<rect x="1230" y="528" width="44" height="44" fill="#BEBEBE"/>
<text x="1291" y="558.8" font-size="24.2" fill="#000">WT2</text>
<rect x="1230" y="576" width="44" height="44" fill="#B22222"/>
<text x="1291" y="606.8" font-size="24.2" fill="#000">KO1</text>
<rect x="1230" y="624" width="44" height="44" fill="#B22222"/>
<text x="1291" y="654.8" font-size="24.2" fill="#000">KO2</text>
<rect x="1230" y="672" width="44" height="44" fill="#000000"/>
<text x="1291" y="702.8" font-size="24.2" fill="#000">Input</text>
</svg></body></html>
